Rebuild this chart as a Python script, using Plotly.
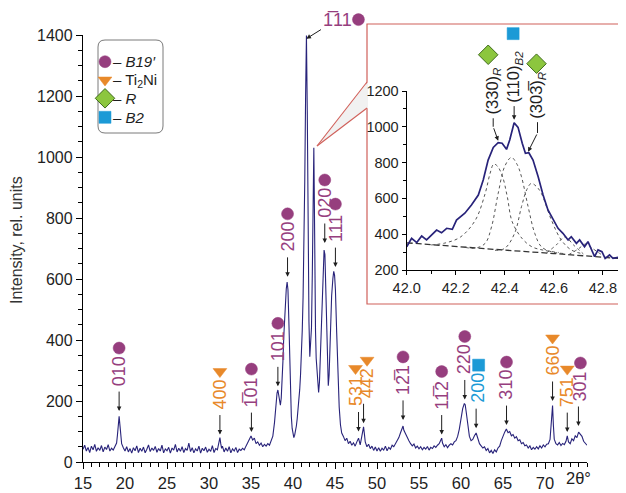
import plotly.graph_objects as go

# ---------------- data ----------------
two_theta = [
    15.0, 15.2, 15.4, 15.6, 15.8, 16.0, 16.2, 16.4, 16.6, 16.8,
    17.0, 17.2, 17.4, 17.6, 17.8, 18.0, 18.2, 18.4, 18.6, 18.8,
    19.0, 19.1, 19.2, 19.3, 19.4, 19.5, 19.6, 19.8, 20.0, 20.2,
    20.4, 20.6, 20.8, 21.0, 21.2, 21.4, 21.6, 21.8, 22.0, 22.2,
    22.4, 22.6, 22.8, 23.0, 23.2, 23.4, 23.6, 23.8, 24.0, 24.2,
    24.4, 24.6, 24.8, 25.0, 25.2, 25.4, 25.6, 25.8, 26.0, 26.2,
    26.4, 26.6, 26.8, 27.0, 27.2, 27.4, 27.6, 27.8, 28.0, 28.2,
    28.4, 28.6, 28.8, 29.0, 29.2, 29.4, 29.6, 29.8, 30.0, 30.2,
    30.4, 30.6, 30.8, 31.0, 31.1, 31.2, 31.3, 31.4, 31.5, 31.6,
    31.8, 32.0, 32.2, 32.4, 32.6, 32.8, 33.0, 33.2, 33.4, 33.6,
    33.8, 34.0, 34.2, 34.4, 34.6, 34.8, 35.0, 35.2, 35.4, 35.6,
    35.8, 36.0, 36.2, 36.4, 36.6, 36.8, 37.0, 37.2, 37.4, 37.6,
    37.8, 38.0, 38.1, 38.2, 38.3, 38.4, 38.5, 38.6, 38.7, 38.8,
    38.9, 39.0, 39.1, 39.2, 39.3, 39.4, 39.5, 39.6, 39.7, 39.8,
    39.9, 40.0, 40.1, 40.2, 40.3, 40.4, 40.5, 40.6, 40.7, 40.8,
    40.9, 41.0, 41.1, 41.2, 41.3, 41.4, 41.5, 41.6, 41.7, 41.8,
    41.9, 42.0, 42.1, 42.2, 42.3, 42.37, 42.42, 42.48, 42.54, 42.6,
    42.68, 42.76, 42.85, 42.95, 43.05, 43.15, 43.3, 43.45, 43.6, 43.7,
    43.8, 43.9, 44.0, 44.1, 44.2, 44.3, 44.45, 44.6, 44.75, 44.85,
    44.95, 45.05, 45.2, 45.35, 45.5, 45.65, 45.8, 46.0, 46.2, 46.4,
    46.6, 46.8, 47.0, 47.2, 47.4, 47.6, 47.8, 48.0, 48.2, 48.4,
    48.5, 48.6, 48.8, 49.0, 49.2, 49.4, 49.6, 49.8, 50.0, 50.2,
    50.4, 50.6, 50.8, 51.0, 51.2, 51.4, 51.6, 51.8, 52.0, 52.2,
    52.4, 52.6, 52.8, 53.0, 53.1, 53.2, 53.4, 53.6, 53.8, 54.0,
    54.2, 54.4, 54.6, 54.8, 55.0, 55.2, 55.4, 55.6, 55.8, 56.0,
    56.2, 56.4, 56.6, 56.8, 57.0, 57.2, 57.4, 57.6, 57.7, 57.8,
    58.0, 58.2, 58.4, 58.6, 58.8, 59.0, 59.2, 59.4, 59.6, 59.8,
    60.0, 60.2, 60.4, 60.5, 60.6, 60.8, 61.0, 61.2, 61.4, 61.6,
    61.8, 62.0, 62.2, 62.4, 62.6, 62.8, 63.0, 63.2, 63.4, 63.6,
    63.8, 64.0, 64.2, 64.4, 64.6, 64.8, 65.0, 65.2, 65.4, 65.6,
    65.8, 66.0, 66.2, 66.4, 66.6, 66.8, 67.0, 67.2, 67.4, 67.6,
    67.8, 68.0, 68.2, 68.4, 68.6, 68.8, 69.0, 69.2, 69.4, 69.6,
    69.8, 70.0, 70.2, 70.4, 70.6, 70.8, 70.9, 71.0, 71.1, 71.3,
    71.5, 71.7, 71.9, 72.1, 72.3, 72.5, 72.65, 72.8, 73.0, 73.2,
    73.4, 73.6, 73.8, 74.0, 74.2, 74.4, 74.6, 74.8, 75.0,
]
intensity = [
    42, 55, 36, 48, 31, 52, 40, 58, 35, 47,
    38, 54, 33, 49, 41, 57, 36, 45, 39, 52,
    62, 88, 125, 150, 120, 82, 60, 47, 36, 50,
    33, 44, 29, 47, 37, 53, 31, 45, 35, 49,
    30, 42, 56, 34, 46, 38, 51, 32, 44, 36,
    55, 30, 43, 37, 48, 29, 46, 39, 58, 33,
    45, 35, 50, 31, 44, 38, 62, 34, 47, 30,
    43, 36, 52, 29, 45, 37, 49, 32, 42, 35,
    54, 31, 44, 40, 55, 68, 80, 60, 45, 52,
    33, 46, 35, 50, 30, 43, 36, 48, 31, 42,
    38, 45, 40, 52, 62, 70, 85, 72, 78, 60,
    66, 55, 62, 50, 58, 52, 60, 55, 68, 85,
    130, 200, 226, 236, 220, 192, 186, 210, 260, 330,
    410, 480, 535, 568, 590, 565, 470, 330, 220, 150,
    110, 90, 80, 88, 100, 118, 142, 168, 198, 238,
    288, 350, 430, 540, 700, 920, 1200, 1398, 1150, 720,
    460, 345, 390, 440, 620, 900, 870, 1030, 860, 620,
    430, 340, 290, 250, 228, 262, 380, 540, 660, 695,
    680, 560, 385, 275, 250, 285, 420, 545, 602, 625,
    612, 565, 425, 290, 180, 122, 95, 84, 70, 78,
    60, 68, 55, 63, 52, 66, 78, 56, 82, 115,
    92, 66, 50, 58, 44, 52, 38, 49, 36, 47,
    35, 45, 39, 52, 37, 48, 42, 55, 50, 60,
    68, 80, 96, 110, 118, 104, 92, 78, 70, 60,
    53, 59, 46, 52, 43, 50, 40, 48, 42, 51,
    39, 48, 44, 53, 48, 55, 60, 72, 78, 62,
    50, 57, 47, 55, 60, 56, 66, 70, 84, 108,
    140, 175, 192, 188, 168, 120, 84, 70, 74, 86,
    95, 78, 60, 53, 46, 50, 38, 44, 30, 38,
    28, 40, 33, 46, 52, 70, 88, 98, 108, 96,
    100, 86, 90, 78, 83, 70, 73, 60, 64, 53,
    56, 46, 53, 40, 48, 42, 50, 43, 53, 46,
    56, 50, 58, 60, 74, 140, 185, 120, 75, 60,
    56, 64, 54, 61, 57, 68, 86, 66, 60, 76,
    70, 86, 80, 98, 90, 84, 68, 60, 55,
]

x_ticks = [15, 20, 25, 30, 35, 40, 45, 50, 55, 60, 65, 70]
y_ticks = [0, 200, 400, 600, 800, 1000, 1200, 1400]

# peak labels of the main pattern
peak_theta = [19.3, 31.3, 35.05, 38.2, 39.35, 43.78, 45.05, 47.8, 48.4,
              53.1, 57.7, 60.45, 61.8, 65.42, 70.9, 72.65, 73.98]
peak_tip = [167, 90, 98, 248, 607, 718, 639, 100, 127,
            138, 90, 205, 111, 121, 200, 98, 118]
peak_hkl = ["010", "400", "1\u030501", "101", "200", "020", "111", "531", "442",
            "12\u03051", "11\u03052", "220", "200", "310", "660", "751", "301"]
peak_phase = ["B19", "Ti2Ni", "B19", "B19", "B19", "B19", "B19", "Ti2Ni", "Ti2Ni",
              "B19", "B19", "B19", "B2", "B19", "Ti2Ni", "Ti2Ni", "B19"]
main_peak_theta = 41.6
main_peak_tip = 1398
main_peak_hkl = "1\u030511"

# inset: fragment 42.0-42.9 deg
inset_theta = [42.000, 42.020, 42.041, 42.061, 42.081, 42.102, 42.122, 42.142, 42.163, 42.186,
               42.203, 42.237, 42.264, 42.292, 42.312, 42.332, 42.353, 42.373, 42.389, 42.407,
               42.420, 42.438, 42.454, 42.471, 42.484, 42.498, 42.515, 42.536, 42.556, 42.576,
               42.597, 42.617, 42.637, 42.658, 42.671, 42.692, 42.705, 42.725, 42.739, 42.753,
               42.766, 42.780, 42.796, 42.809, 42.827, 42.841, 42.861, 42.875, 42.888]
inset_intensity = [330, 377, 353, 390, 368, 395, 423, 408, 433, 427,
                   479, 517, 563, 619, 703, 814, 885, 911, 908, 874,
                   926, 1023, 997, 908, 852, 855, 814, 721, 619, 535,
                   479, 433, 405, 368, 386, 349, 368, 330, 358, 312,
                   275, 312, 302, 265, 284, 265, 271, 260, 274]
bg_theta = [42.0, 42.2, 42.4, 42.6, 42.8, 42.89]
bg_intensity = [352, 330, 311, 292, 274, 262]
c330_theta = [42.10, 42.16, 42.22, 42.28, 42.32, 42.34, 42.355, 42.37, 42.39, 42.41,
              42.43, 42.47, 42.51, 42.56, 42.62]
c330_int = [340, 352, 385, 479, 628, 740, 792, 780, 725, 610, 470, 377, 330, 310, 298]
c110_theta = [42.24, 42.28, 42.32, 42.346, 42.373, 42.40, 42.427, 42.45, 42.468, 42.495,
              42.522, 42.549, 42.59, 42.64]
c110_int = [326, 322, 349, 442, 628, 780, 829, 790, 721, 554, 405, 330, 302, 292]
c303_theta = [42.36, 42.40, 42.44, 42.468, 42.49, 42.508, 42.53, 42.549, 42.59, 42.63,
              42.671, 42.72]
c303_int = [310, 321, 405, 554, 650, 684, 665, 628, 479, 368, 312, 290]
c4_theta = [42.57, 42.61, 42.645, 42.68, 42.72]
c4_int = [295, 340, 385, 340, 290]
c5_theta = [42.66, 42.70, 42.73, 42.76, 42.80]
c5_int = [285, 318, 345, 318, 280]
inset_x_ticks = [42.0, 42.2, 42.4, 42.6, 42.8]
inset_y_ticks = [200, 400, 600, 800, 1000, 1200]

inset_lbl_theta = [42.373, 42.438, 42.495]
inset_lbl_tip = [922, 1040, 861]
inset_lbl_text = ["(330)<sub><i>R</i></sub>", "(110)<sub><i>B2</i></sub>",
                  "(303\u0305)<sub><i>R</i></sub>"]
inset_lbl_phase = ["R", "B2", "R"]

legend_phase = ["B19", "Ti2Ni", "R", "B2"]
legend_text = ["\u2013 <i>B19\u2032</i>", "\u2013 Ti<sub>2</sub>Ni", "\u2013 <i>R</i>", "\u2013 <i>B2</i>"]

# ---------------- style ----------------
OFF = 8                       # page body margin of the html page
W, H = 626 - OFF, 493 - OFF   # figure size
X0, X1, Y0, Y1 = 83, 587, 35, 462          # main plot area (page px)
IX0, IX1, IY0, IY1 = 406.7, 625, 91, 270   # inset plot area (page px)
XR = [15, 75]
YR = [0, 1400]
IXR = [42.0, 42.89]
IYR = [200, 1200]
PXD = (X1 - X0) / (XR[1] - XR[0])
PXI = (Y1 - Y0) / (YR[1] - YR[0])
IPXD = (IX1 - IX0) / (IXR[1] - IXR[0])
IPXI = (IY1 - IY0) / (IYR[1] - IYR[0])

FONT = "Liberation Sans, Arial, sans-serif"
NAVY = "#28237a"
INK = "#1e1e1e"
RED = "#d0605a"
phase_color = {"B19": "#963e7e", "Ti2Ni": "#e8892a", "R": "#8cc63e", "B2": "#1c9ad6"}
phase_symbol = {"B19": "circle", "Ti2Ni": "triangle-down", "R": "diamond", "B2": "square"}
phase_size = {"B19": 12, "Ti2Ni": 12, "R": 15, "B2": 12}
phase_line = {"B19": "#963e7e", "Ti2Ni": "#e8892a", "R": "#3f6b1c", "B2": "#1c9ad6"}

ARROW_LEN = 21
TEXT_OFF = 23
MARK_OFF = 63
label_dx = [0, 0, 0, 0, 0, 0, 0, -3, 3.5, 0, 0, 0, 2.5, 0, 0, 0, 2]
inset_bend = [(-5, 14), (0, 15), (9.4, 18.7)]
inset_text_up = [24, 15, 31]
inset_mark = [(-10, 86), (-1, 86), (8.4, 88)]


def px(x):
    return (x - OFF) / W


def py(y):
    return 1 - (y - OFF) / H


def main_to_page(t, v):
    return X0 + (t - XR[0]) * PXD, Y1 - (v - YR[0]) * PXI


def inset_to_page(t, v):
    return IX0 + (t - IXR[0]) * IPXD, IY1 - (v - IYR[0]) * IPXI


fig = go.Figure()

# main pattern
fig.add_trace(go.Scatter(x=two_theta, y=intensity, mode="lines",
                         line=dict(color=NAVY, width=1.1), xaxis="x", yaxis="y",
                         hoverinfo="skip", showlegend=False))

# inset curves
fig.add_trace(go.Scatter(x=bg_theta, y=bg_intensity, mode="lines",
                         line=dict(color="#333333", width=1.3, dash="6px,3px"),
                         xaxis="x2", yaxis="y2", hoverinfo="skip", showlegend=False))
for cx, cy in [(c330_theta, c330_int), (c110_theta, c110_int), (c303_theta, c303_int),
               (c4_theta, c4_int), (c5_theta, c5_int)]:
    fig.add_trace(go.Scatter(x=cx, y=cy, mode="lines",
                             line=dict(color="#555555", width=1, dash="dot", shape="spline"),
                             xaxis="x2", yaxis="y2", hoverinfo="skip", showlegend=False))
fig.add_trace(go.Scatter(x=inset_theta, y=inset_intensity, mode="lines",
                         line=dict(color=NAVY, width=1.7), xaxis="x2", yaxis="y2",
                         hoverinfo="skip", showlegend=False))

# phase symbols (drawn on a page-pixel overlay, positioned from the data)
sym = {ph: ([], []) for ph in phase_symbol}
for i, p in enumerate(peak_phase):
    xx, yy = main_to_page(peak_theta[i], peak_tip[i])
    sym[p][0].append(xx + label_dx[i])
    sym[p][1].append(yy - MARK_OFF)
xx, yy = main_to_page(main_peak_theta, main_peak_tip)
sym["B19"][0].append(xx + 52)
sym["B19"][1].append(yy - 16)
for i, p in enumerate(inset_lbl_phase):
    xx, yy = inset_to_page(inset_lbl_theta[i], inset_lbl_tip[i])
    sym[p][0].append(xx + inset_mark[i][0])
    sym[p][1].append(yy - inset_mark[i][1])
leg_y = [61.7, 80, 98.3, 117.3]
for p, yy in zip(legend_phase, leg_y):
    sym[p][0].append(105)
    sym[p][1].append(yy)
for ph, (mx, my) in sym.items():
    fig.add_trace(go.Scatter(x=mx, y=my, mode="markers",
                             marker=dict(symbol=phase_symbol[ph], size=phase_size[ph],
                                         color=phase_color[ph],
                                         line=dict(color=phase_line[ph], width=1 if ph == "R" else 0.5)),
                             xaxis="x3", yaxis="y3", hoverinfo="skip", showlegend=False))

ann = []
# main peak labels and arrows
for i in range(len(peak_theta)):
    ann.append(dict(x=peak_theta[i], y=peak_tip[i], xref="x", yref="y", text="",
                    showarrow=True, ax=0, ay=-ARROW_LEN, arrowhead=2, arrowsize=0.9,
                    arrowwidth=1, arrowcolor=INK, standoff=0))
    ann.append(dict(x=peak_theta[i], y=peak_tip[i], xref="x", yref="y", text=peak_hkl[i],
                    showarrow=False, textangle=-90, xanchor="center", yanchor="bottom",
                    xshift=label_dx[i], yshift=TEXT_OFF,
                    font=dict(family=FONT, size=18, color=phase_color[peak_phase[i]])))
# strongest reflection
ann.append(dict(x=main_peak_theta, y=main_peak_tip - 10, xref="x", yref="y", text="",
                showarrow=True, ax=16, ay=-10, arrowhead=2, arrowsize=0.9,
                arrowwidth=1, arrowcolor=INK, standoff=0))
ann.append(dict(x=main_peak_theta, y=main_peak_tip, xref="x", yref="y", text=main_peak_hkl,
                showarrow=False, xanchor="center", yanchor="middle", xshift=31, yshift=16,
                font=dict(family=FONT, size=18, color=phase_color["B19"])))

# inset labels
for i in range(3):
    bx, bu = inset_bend[i]
    ann.append(dict(x=inset_lbl_theta[i], y=inset_lbl_tip[i], xref="x2", yref="y2", text="",
                    showarrow=True, ax=bx, ay=-bu, arrowhead=2, arrowsize=0.9,
                    arrowwidth=1, arrowcolor=INK, standoff=0))
    if inset_text_up[i] > bu:
        ann.append(dict(x=inset_lbl_theta[i], y=inset_lbl_tip[i], xref="x2", yref="y2", text="",
                        showarrow=True, ax=0, ay=-(inset_text_up[i] - bu), arrowhead=0,
                        arrowwidth=1, arrowcolor=INK, standoff=0, xshift=bx, yshift=bu))
    ann.append(dict(x=inset_lbl_theta[i], y=inset_lbl_tip[i], xref="x2", yref="y2",
                    text=inset_lbl_text[i], showarrow=False, textangle=-90,
                    xanchor="center", yanchor="bottom", xshift=bx, yshift=inset_text_up[i],
                    font=dict(family=FONT, size=16.5, color=INK)))

# legend texts
for t, yy in zip(legend_text, leg_y):
    ann.append(dict(x=px(111), y=py(yy), xref="paper", yref="paper", text=t, showarrow=False,
                    xanchor="left", yanchor="middle", font=dict(family=FONT, size=15, color=INK)))

# axis extras
ann.append(dict(x=px(578), y=py(478), xref="paper", yref="paper", text="2\u03b8\u00b0",
                showarrow=False, xanchor="center", yanchor="middle",
                font=dict(family=FONT, size=16.5, color=INK)))
ann.append(dict(x=px(16), y=py(240), xref="paper", yref="paper", text="Intensity, rel. units",
                showarrow=False, textangle=-90, xanchor="center", yanchor="middle",
                font=dict(family=FONT, size=16, color="#333333")))

# shapes: inset frame, call-out wedge, legend frame
shapes = []
shapes.append(dict(type="rect", xref="paper", yref="paper", x0=px(367), x1=px(624), y0=py(24), y1=py(304),
                   line=dict(color=RED, width=1.2), fillcolor="white", layer="below"))
wedge = "M {},{} L {},{} L {},{} Z".format(px(368), py(82), px(317), py(146), px(368), py(108))
shapes.append(dict(type="path", xref="paper", yref="paper", path=wedge,
                   line=dict(width=0), fillcolor="#f1f1f1", layer="below"))
shapes.append(dict(type="line", xref="paper", yref="paper", x0=px(317), y0=py(146), x1=px(367), y1=py(82),
                   line=dict(color=RED, width=1.1), layer="below"))
shapes.append(dict(type="line", xref="paper", yref="paper", x0=px(317), y0=py(146), x1=px(367), y1=py(108),
                   line=dict(color=RED, width=1.1), layer="below"))
lx0, lx1, ly0, ly1, r = 98, 163, 40, 133, 7
rr = ("M {a},{b} L {c},{b} Q {x1},{b} {x1},{d} L {x1},{e} Q {x1},{f} {c},{f} "
      "L {a},{f} Q {x0},{f} {x0},{e} L {x0},{d} Q {x0},{b} {a},{b} Z").format(
    a=px(lx0 + r), b=py(ly0), c=px(lx1 - r), d=py(ly0 + r), e=py(ly1 - r), f=py(ly1),
    x0=px(lx0), x1=px(lx1))
shapes.append(dict(type="path", xref="paper", yref="paper", path=rr,
                   line=dict(color="#7a7a7a", width=1), fillcolor="white", layer="below"))

tickfont = dict(family=FONT, size=16, color=INK)
xtickfont = dict(family=FONT, size=16.5, color=INK)
itickfont = dict(family=FONT, size=14.5, color=INK)
fig.update_layout(
    width=W, height=H, margin=dict(l=0, r=0, t=0, b=0, autoexpand=False),
    paper_bgcolor="white", plot_bgcolor="rgba(0,0,0,0)", showlegend=False,
    annotations=ann, shapes=shapes,
    xaxis=dict(domain=[px(X0), px(X1)], range=XR, anchor="y", tickvals=x_ticks, automargin=False,
               showline=True, linecolor="black", linewidth=1.3, ticks="outside", ticklen=6,
               tickwidth=1.2, tickcolor="black", showgrid=False, zeroline=False, tickfont=xtickfont,
               minor=dict(dtick=1, ticks="outside", ticklen=3.5, tickwidth=1, tickcolor="black")),
    yaxis=dict(domain=[py(Y1), py(Y0)], range=YR, anchor="x", tickvals=y_ticks, automargin=False,
               showline=True, linecolor="black", linewidth=1.3, ticks="outside", ticklen=6,
               tickwidth=1.2, tickcolor="black", showgrid=False, zeroline=False, tickfont=tickfont,
               minor=dict(dtick=50, ticks="outside", ticklen=3.5, tickwidth=1, tickcolor="black")),
    xaxis2=dict(domain=[px(IX0), px(IX1)], range=IXR, anchor="y2", tickvals=inset_x_ticks,
                automargin=False, tickformat=".1f", showline=True, linecolor="black", linewidth=1.2,
                ticks="outside", ticklen=4, tickcolor="black", showgrid=False, zeroline=False,
                tickfont=itickfont,
                minor=dict(dtick=0.1, ticks="outside", ticklen=2.5, tickcolor="black")),
    yaxis2=dict(domain=[py(IY1), py(IY0)], range=IYR, anchor="x2", tickvals=inset_y_ticks,
                automargin=False, showline=True, linecolor="black", linewidth=1.2, ticks="outside",
                ticklen=4, tickcolor="black", showgrid=False, zeroline=False, tickfont=itickfont,
                minor=dict(dtick=100, ticks="outside", ticklen=2.5, tickcolor="black")),
    xaxis3=dict(domain=[0, 1], range=[OFF, OFF + W], anchor="y3", visible=False,
                fixedrange=True, automargin=False),
    yaxis3=dict(domain=[0, 1], range=[OFF + H, OFF], anchor="x3", visible=False,
                fixedrange=True, automargin=False),
)

fig.write_html("out.html")
